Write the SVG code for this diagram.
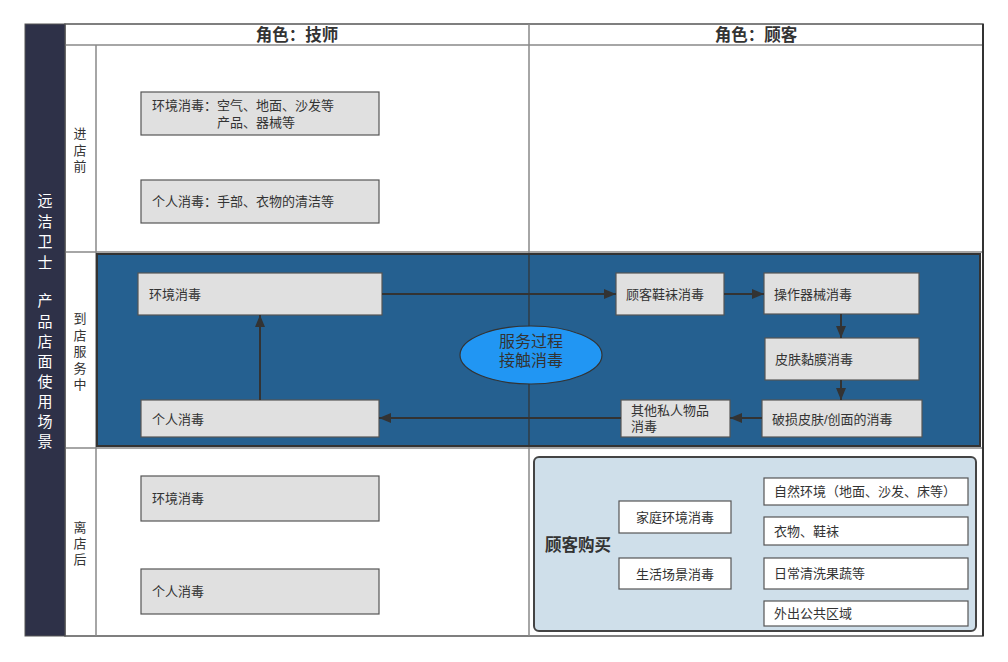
<svg xmlns="http://www.w3.org/2000/svg" width="1008" height="662" viewBox="0 0 1008 662">
<defs>
<style>
text{font-family:"Liberation Sans","Noto Sans CJK SC",sans-serif;fill:#333;}
.grid{stroke:#888;stroke-width:1.5;fill:none;}
.box rect{fill:#e0e0e0;stroke:#555;stroke-width:1.2;}
.box text{font-size:13px;}
.wbox rect{fill:#fff;stroke:#555;stroke-width:1.2;}
.wbox text{font-size:13px;}
.conn{stroke:#333;stroke-width:2;fill:none;marker-end:url(#ah);}
.hdr{font-size:16.5px;font-weight:bold;text-anchor:middle;}
.phase{font-size:13px;text-anchor:middle;}
.title{font-size:15px;fill:#fff;text-anchor:middle;}
</style>
<marker id="ah" viewBox="0 0 12 10" refX="12" refY="5" markerWidth="6" markerHeight="5" orient="auto" markerUnits="strokeWidth">
<path d="M0,0 L12,5 L0,10 z" fill="#333"/>
</marker>
</defs>
<rect width="1008" height="662" fill="#fff"/>
<g id="frame">
<rect x="65" y="24" width="918" height="612" fill="#fff" stroke="#555" stroke-width="1.5"/>
<line class="grid" x1="65" y1="45" x2="983" y2="45"/>
<line class="grid" x1="529" y1="24" x2="529" y2="636"/>
<line class="grid" x1="96" y1="45" x2="96" y2="636"/>
<line class="grid" x1="65" y1="252" x2="983" y2="252"/>
<line class="grid" x1="65" y1="448" x2="983" y2="448"/>
<line x1="983" y1="24" x2="983" y2="636" stroke="#333" stroke-width="2"/>
<rect x="25" y="24" width="40" height="612" fill="#2e3148" stroke="#555" stroke-width="1"/>
<text class="hdr" x="297" y="41">角色：技师</text>
<text class="hdr" x="756" y="41">角色：顾客</text>
</g>
<g id="title">
<text class="title" x="45" y="206">远</text>
<text class="title" x="45" y="227">洁</text>
<text class="title" x="45" y="247">卫</text>
<text class="title" x="45" y="268">士</text>
<text class="title" x="45" y="306">产</text>
<text class="title" x="45" y="327">品</text>
<text class="title" x="45" y="347">店</text>
<text class="title" x="45" y="367">面</text>
<text class="title" x="45" y="387">使</text>
<text class="title" x="45" y="407">用</text>
<text class="title" x="45" y="427">场</text>
<text class="title" x="45" y="447">景</text>
</g>
<g id="phases">
<text class="phase" x="80" y="138">进</text>
<text class="phase" x="80" y="155">店</text>
<text class="phase" x="80" y="171">前</text>
<text class="phase" x="80" y="323">到</text>
<text class="phase" x="80" y="340">店</text>
<text class="phase" x="80" y="356">服</text>
<text class="phase" x="80" y="373">务</text>
<text class="phase" x="80" y="389">中</text>
<text class="phase" x="80" y="532">离</text>
<text class="phase" x="80" y="548">店</text>
<text class="phase" x="80" y="564">后</text>
</g>
<g id="service-area">
<rect x="97" y="254" width="883" height="192" fill="#256090" stroke="#333" stroke-width="2"/>
<line x1="529" y1="254" x2="529" y2="446" stroke="#333" stroke-width="1.2"/>
</g>
<g id="pre-env" class="box"><rect x="141" y="92" width="238" height="43"/><text x="152" y="110">环境消毒：空气、地面、沙发等</text><text x="217" y="127">产品、器械等</text></g>
<g id="pre-personal" class="box"><rect x="141" y="180" width="238" height="43"/><text x="152" y="206">个人消毒：手部、衣物的清洁等</text></g>
<g id="svc-env" class="box"><rect x="138" y="273" width="244" height="42"/><text x="149" y="299">环境消毒</text></g>
<g id="svc-personal" class="box"><rect x="141" y="400" width="238" height="37"/><text x="152" y="424">个人消毒</text></g>
<g id="svc-shoes" class="box"><rect x="616" y="273" width="108" height="42"/><text x="626" y="299">顾客鞋袜消毒</text></g>
<g id="svc-tools" class="box"><rect x="764" y="273" width="155" height="41"/><text x="774" y="299">操作器械消毒</text></g>
<g id="svc-skin" class="box"><rect x="765" y="338" width="154" height="42"/><text x="775" y="364">皮肤黏膜消毒</text></g>
<g id="svc-wound" class="box"><rect x="762" y="400" width="160" height="37"/><text x="772" y="424">破损皮肤/创面的消毒</text></g>
<g id="svc-items" class="box"><rect x="621" y="400" width="109" height="37"/><text x="631" y="415">其他私人物品</text><text x="631" y="431">消毒</text></g>
<g id="svc-center"><ellipse cx="531" cy="355" rx="71" ry="29" fill="#2196f3" stroke="#333" stroke-width="1.2"/><text x="531" y="347" font-size="16" text-anchor="middle">服务过程</text><text x="531" y="366" font-size="16" text-anchor="middle">接触消毒</text></g>
<g id="connectors">
<path class="conn" d="M382,294 L616,294"/>
<path class="conn" d="M724,294 L764,294"/>
<path class="conn" d="M841,314 L841,338"/>
<path class="conn" d="M841,380 L841,400"/>
<path class="conn" d="M762,418 L730,418"/>
<path class="conn" d="M621,418 L379,418"/>
<path class="conn" d="M260,400 L260,315"/>
</g>
<g id="post-env" class="box"><rect x="141" y="476" width="238" height="45"/><text x="152" y="503">环境消毒</text></g>
<g id="post-personal" class="box"><rect x="141" y="569" width="238" height="45"/><text x="152" y="596">个人消毒</text></g>
<g id="purchase">
<rect x="534" y="457" width="442" height="174" rx="5" fill="#cfdfea" stroke="#444" stroke-width="2"/>
<text x="545" y="551" font-size="16.5" font-weight="bold">顾客购买</text>
</g>
<g id="home" class="wbox"><rect x="619" y="501" width="112" height="32"/><text x="675" y="522" text-anchor="middle">家庭环境消毒</text></g>
<g id="life" class="wbox"><rect x="619" y="558" width="112" height="31"/><text x="675" y="579" text-anchor="middle">生活场景消毒</text></g>
<g id="nature" class="wbox"><rect x="764" y="478" width="204" height="27"/><text x="774" y="496">自然环境（地面、沙发、床等）</text></g>
<g id="clothes" class="wbox"><rect x="764" y="517" width="204" height="28"/><text x="774" y="536">衣物、鞋袜</text></g>
<g id="fruit" class="wbox"><rect x="764" y="558" width="204" height="31"/><text x="774" y="578">日常清洗果蔬等</text></g>
<g id="public" class="wbox"><rect x="764" y="601" width="204" height="25"/><text x="774" y="618">外出公共区域</text></g>
</svg>
